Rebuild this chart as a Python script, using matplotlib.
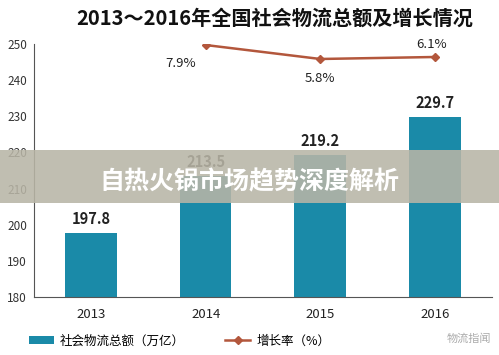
import matplotlib
matplotlib.use("Agg")
import matplotlib.pyplot as plt
from matplotlib.patches import Rectangle

plt.rcParams['font.family'] = ['Noto Sans CJK SC', 'DejaVu Sans']

# data
years = ['2013', '2014', '2015', '2016']
totals = [197.8, 213.5, 219.2, 229.7]
growth_years = ['2014', '2015', '2016']
growth = [7.9, 5.8, 6.1]
title = '2013～2016年全国社会物流总额及增长情况'
bar_name = '社会物流总额（万亿）'
line_name = '增长率（%）'
banner = '自热火锅市场趋势深度解析'

bar_color = '#1a8aa8'
line_color = '#b3573c'

fig = plt.figure(figsize=(4.99, 3.55), dpi=100)
ax = fig.add_axes([0.068, 0.163, 0.918, 0.713])

x = list(range(len(years)))
bars = ax.bar(x, totals, width=0.45, color=bar_color, zorder=2)
for xi, v in zip(x, totals):
    ax.text(xi, v + 3.9, f'{v}', ha='center', va='center',
            fontsize=10.5, fontweight='bold', color='#222222')

ax.set_ylim(180, 250)
ax.set_xlim(-0.5, 3.5)
ax.set_yticks(range(180, 251, 10))
ax.set_xticks(x)
ax.set_xticklabels(years)
ax.tick_params(axis='y', length=0, labelsize=8.5, colors='#333333', pad=5)
ax.tick_params(axis='x', length=0, labelsize=9.5, colors='#222222', pad=8)
for s in ['top', 'right']:
    ax.spines[s].set_visible(False)
ax.spines['left'].set_color('#555555')
ax.spines['bottom'].set_color('#555555')

ax2 = ax.twinx()
gx = [years.index(g) for g in growth_years]
line, = ax2.plot(gx, growth, color=line_color, marker='D', markersize=4.5,
                 linewidth=1.8, zorder=3)
ax2.set_ylim(-30, 8.05)
ax2.axis('off')
offs = [(-18, -13), (0, -14), (-2, 9)]
for xi, v, o in zip(gx, growth, offs):
    ax2.annotate(f'{v}%', (xi, v), xytext=o, textcoords='offset points',
                 ha='center', va='center', fontsize=9.5, color='#222222')

fig.text(0.551, 0.95, title, ha='center', va='center', fontsize=14.5,
         fontweight='bold', color='#111111')

fig.legend([bars, line], [bar_name, line_name], loc='center',
           bbox_to_anchor=(0.36, 0.04), ncol=2, frameon=False, fontsize=9,
           handlelength=2.0, handletextpad=0.5, columnspacing=3.2)
fig.text(0.985, 0.045, '物流指闻', ha='right', va='center', fontsize=8,
         color='#aaaaaa')

# overlay banner
fig.patches.append(Rectangle((0, 0.428), 1, 0.149, transform=fig.transFigure,
                             facecolor='#b8b5a6', alpha=0.88, zorder=10))
fig.text(0.5, 0.487, banner, ha='center', va='center', fontsize=18,
         fontweight='bold', color='white', zorder=11)

fig.savefig('out.png', dpi=100)
